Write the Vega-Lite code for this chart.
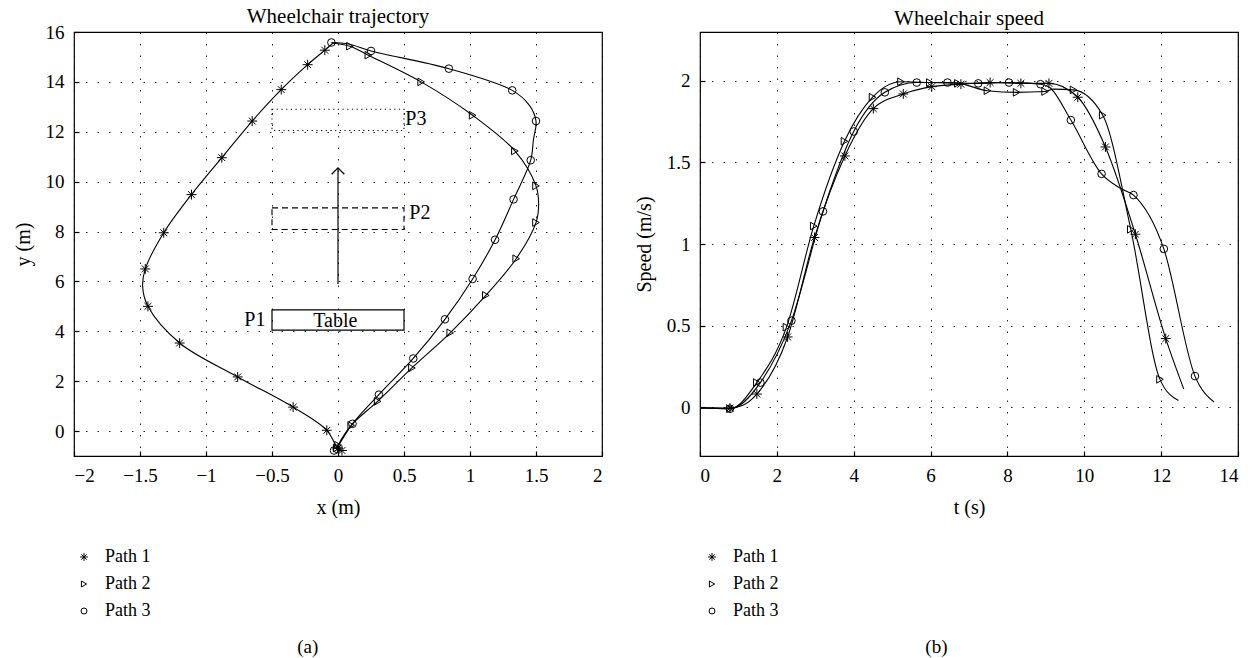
{
  "$schema": "https://vega.github.io/schema/vega-lite/v6.json",
  "background": "white",
  "padding": {"left": 12, "top": 5, "right": 5, "bottom": 0},
  "config": {
    "font": "Liberation Serif",
    "view": {"stroke": "#000", "strokeWidth": 1.2},
    "axis": {
      "domain": false, "tickSize": -5, "tickColor": "#000", "tickWidth": 1.2,
      "labelFont": "Liberation Serif", "labelFontSize": 19, "labelColor": "#000",
      "titleFont": "Liberation Serif", "titleFontSize": 20, "titleFontWeight": "normal", "titleColor": "#000",
      "grid": true, "gridColor": "#000", "gridDash": [1.5, 10], "gridWidth": 1, "gridOpacity": 0.85,
      "labelPadding": 15, "titlePadding": 12
    },
    "title": {"font": "Liberation Serif", "fontSize": 21, "fontWeight": "normal", "color": "#000"},
    "legend": {
      "orient": "none", "title": null, "padding": 0, "labelFont": "Liberation Serif", "labelFontSize": 18,
      "labelColor": "#000", "symbolSize": 36, "symbolStrokeColor": "#000", "symbolStrokeWidth": 1,
      "rowPadding": 9, "labelOffset": 12
    }
  },
  "datasets": {
    "traj": [
      {"path": "Path 1", "i": 0, "x": 0.02, "y": -0.78},
      {"path": "Path 1", "i": 1, "x": 0.0, "y": -0.72},
      {"path": "Path 1", "i": 2, "x": -0.085, "y": 0.03},
      {"path": "Path 1", "i": 3, "x": -0.34, "y": 0.96},
      {"path": "Path 1", "i": 4, "x": -0.76, "y": 2.17},
      {"path": "Path 1", "i": 5, "x": -1.2, "y": 3.53},
      {"path": "Path 1", "i": 6, "x": -1.44, "y": 5.0},
      {"path": "Path 1", "i": 7, "x": -1.48, "y": 5.8},
      {"path": "Path 1", "i": 8, "x": -1.46, "y": 6.5},
      {"path": "Path 1", "i": 9, "x": -1.32, "y": 7.95},
      {"path": "Path 1", "i": 10, "x": -1.11, "y": 9.48},
      {"path": "Path 1", "i": 11, "x": -0.88, "y": 10.96},
      {"path": "Path 1", "i": 12, "x": -0.65, "y": 12.43},
      {"path": "Path 1", "i": 13, "x": -0.43, "y": 13.69},
      {"path": "Path 1", "i": 14, "x": -0.23, "y": 14.69},
      {"path": "Path 1", "i": 15, "x": -0.1, "y": 15.27},
      {"path": "Path 1", "i": 16, "x": -0.04, "y": 15.55},
      {"path": "Path 2", "i": 0, "x": -0.04, "y": 15.55},
      {"path": "Path 2", "i": 1, "x": 0.09, "y": 15.43},
      {"path": "Path 2", "i": 2, "x": 0.23, "y": 15.07},
      {"path": "Path 2", "i": 3, "x": 0.63, "y": 14.0},
      {"path": "Path 2", "i": 4, "x": 1.02, "y": 12.66},
      {"path": "Path 2", "i": 5, "x": 1.34, "y": 11.23},
      {"path": "Path 2", "i": 6, "x": 1.5, "y": 9.83},
      {"path": "Path 2", "i": 7, "x": 1.52, "y": 9.1},
      {"path": "Path 2", "i": 8, "x": 1.5, "y": 8.36},
      {"path": "Path 2", "i": 9, "x": 1.35, "y": 6.91},
      {"path": "Path 2", "i": 10, "x": 1.12, "y": 5.44},
      {"path": "Path 2", "i": 11, "x": 0.85, "y": 3.94},
      {"path": "Path 2", "i": 12, "x": 0.56, "y": 2.53},
      {"path": "Path 2", "i": 13, "x": 0.3, "y": 1.19},
      {"path": "Path 2", "i": 14, "x": 0.1, "y": 0.23},
      {"path": "Path 2", "i": 15, "x": 0.0, "y": -0.57},
      {"path": "Path 2", "i": 16, "x": -0.01, "y": -0.7},
      {"path": "Path 3", "i": 0, "x": -0.05, "y": 15.58},
      {"path": "Path 3", "i": 1, "x": 0.08, "y": 15.52},
      {"path": "Path 3", "i": 2, "x": 0.25, "y": 15.24},
      {"path": "Path 3", "i": 3, "x": 0.84, "y": 14.53},
      {"path": "Path 3", "i": 4, "x": 1.32, "y": 13.66},
      {"path": "Path 3", "i": 5, "x": 1.45, "y": 13.06},
      {"path": "Path 3", "i": 6, "x": 1.5, "y": 12.43},
      {"path": "Path 3", "i": 7, "x": 1.48, "y": 11.66},
      {"path": "Path 3", "i": 8, "x": 1.46, "y": 10.86},
      {"path": "Path 3", "i": 9, "x": 1.33, "y": 9.29},
      {"path": "Path 3", "i": 10, "x": 1.19, "y": 7.67},
      {"path": "Path 3", "i": 11, "x": 1.02, "y": 6.1},
      {"path": "Path 3", "i": 12, "x": 0.81, "y": 4.48},
      {"path": "Path 3", "i": 13, "x": 0.57, "y": 2.91},
      {"path": "Path 3", "i": 14, "x": 0.31, "y": 1.46},
      {"path": "Path 3", "i": 15, "x": 0.11, "y": 0.29},
      {"path": "Path 3", "i": 16, "x": -0.01, "y": -0.71}
    ],
    "trajm": [
      {"path": "Path 1", "x": 0.03, "y": -0.78},
      {"path": "Path 1", "x": 0.0, "y": -0.68},
      {"path": "Path 1", "x": -0.085, "y": 0.03},
      {"path": "Path 1", "x": -0.34, "y": 0.96},
      {"path": "Path 1", "x": -0.76, "y": 2.17},
      {"path": "Path 1", "x": -1.2, "y": 3.53},
      {"path": "Path 1", "x": -1.44, "y": 5.0},
      {"path": "Path 1", "x": -1.46, "y": 6.5},
      {"path": "Path 1", "x": -1.32, "y": 7.95},
      {"path": "Path 1", "x": -1.11, "y": 9.48},
      {"path": "Path 1", "x": -0.88, "y": 10.96},
      {"path": "Path 1", "x": -0.65, "y": 12.43},
      {"path": "Path 1", "x": -0.43, "y": 13.69},
      {"path": "Path 1", "x": -0.23, "y": 14.69},
      {"path": "Path 1", "x": -0.1, "y": 15.27},
      {"path": "Path 2", "x": 0.09, "y": 15.43},
      {"path": "Path 2", "x": 0.23, "y": 15.07},
      {"path": "Path 2", "x": 0.63, "y": 14.0},
      {"path": "Path 2", "x": 1.02, "y": 12.66},
      {"path": "Path 2", "x": 1.34, "y": 11.23},
      {"path": "Path 2", "x": 1.5, "y": 9.83},
      {"path": "Path 2", "x": 1.5, "y": 8.36},
      {"path": "Path 2", "x": 1.35, "y": 6.91},
      {"path": "Path 2", "x": 1.12, "y": 5.44},
      {"path": "Path 2", "x": 0.85, "y": 3.94},
      {"path": "Path 2", "x": 0.56, "y": 2.53},
      {"path": "Path 2", "x": 0.3, "y": 1.19},
      {"path": "Path 2", "x": 0.1, "y": 0.23},
      {"path": "Path 2", "x": 0.0, "y": -0.57},
      {"path": "Path 2", "x": -0.01, "y": -0.68},
      {"path": "Path 3", "x": -0.05, "y": 15.58},
      {"path": "Path 3", "x": 0.25, "y": 15.24},
      {"path": "Path 3", "x": 0.84, "y": 14.53},
      {"path": "Path 3", "x": 1.32, "y": 13.66},
      {"path": "Path 3", "x": 1.5, "y": 12.43},
      {"path": "Path 3", "x": 1.46, "y": 10.86},
      {"path": "Path 3", "x": 1.33, "y": 9.29},
      {"path": "Path 3", "x": 1.19, "y": 7.67},
      {"path": "Path 3", "x": 1.02, "y": 6.1},
      {"path": "Path 3", "x": 0.81, "y": 4.48},
      {"path": "Path 3", "x": 0.57, "y": 2.91},
      {"path": "Path 3", "x": 0.31, "y": 1.46},
      {"path": "Path 3", "x": 0.11, "y": 0.29},
      {"path": "Path 3", "x": -0.01, "y": -0.71},
      {"path": "Path 3", "x": -0.03, "y": -0.78}
    ],
    "boxes": [
      {"name": "Table", "x": -0.5, "x2": 0.5, "y": 4.05, "y2": 4.86},
      {"name": "P2", "x": -0.5, "x2": 0.5, "y": 8.08, "y2": 8.95},
      {"name": "P3", "x": -0.5, "x2": 0.5, "y": 12.05, "y2": 12.9}
    ],
    "labels": [
      {"label": "P1", "x": -0.63, "y": 4.47},
      {"label": "Table", "x": -0.02, "y": 4.42},
      {"label": "P2", "x": 0.62, "y": 8.73},
      {"label": "P3", "x": 0.59, "y": 12.5}
    ],
    "arrow": [
      {"x": 0, "y": 5.9, "y2": 10.55}
    ],
    "speed": [
      {"path": "Path 1", "t": 0, "v": -0.005},
      {"path": "Path 1", "t": 0.78, "v": -0.006},
      {"path": "Path 1", "t": 1.1, "v": 0.01},
      {"path": "Path 1", "t": 1.48, "v": 0.08},
      {"path": "Path 1", "t": 2.28, "v": 0.43},
      {"path": "Path 1", "t": 2.98, "v": 1.04},
      {"path": "Path 1", "t": 3.77, "v": 1.54},
      {"path": "Path 1", "t": 4.51, "v": 1.83},
      {"path": "Path 1", "t": 5.29, "v": 1.92},
      {"path": "Path 1", "t": 6.03, "v": 1.965},
      {"path": "Path 1", "t": 6.79, "v": 1.98},
      {"path": "Path 1", "t": 7.55, "v": 1.99},
      {"path": "Path 1", "t": 8.35, "v": 1.985},
      {"path": "Path 1", "t": 9.08, "v": 1.985},
      {"path": "Path 1", "t": 9.83, "v": 1.9},
      {"path": "Path 1", "t": 10.55, "v": 1.595},
      {"path": "Path 1", "t": 11.33, "v": 1.06},
      {"path": "Path 1", "t": 12.12, "v": 0.42},
      {"path": "Path 1", "t": 12.59, "v": 0.11},
      {"path": "Path 2", "t": 0, "v": -0.005},
      {"path": "Path 2", "t": 0.78, "v": -0.01},
      {"path": "Path 2", "t": 1.48, "v": 0.15},
      {"path": "Path 2", "t": 2.25, "v": 0.49},
      {"path": "Path 2", "t": 2.96, "v": 1.11},
      {"path": "Path 2", "t": 3.76, "v": 1.63},
      {"path": "Path 2", "t": 4.49, "v": 1.9},
      {"path": "Path 2", "t": 5.23, "v": 1.995},
      {"path": "Path 2", "t": 5.98, "v": 1.99},
      {"path": "Path 2", "t": 6.71, "v": 1.985},
      {"path": "Path 2", "t": 7.48, "v": 1.94},
      {"path": "Path 2", "t": 8.24, "v": 1.93},
      {"path": "Path 2", "t": 8.98, "v": 1.935},
      {"path": "Path 2", "t": 9.2, "v": 1.95},
      {"path": "Path 2", "t": 9.72, "v": 1.945},
      {"path": "Path 2", "t": 10.48, "v": 1.79},
      {"path": "Path 2", "t": 11.21, "v": 1.09},
      {"path": "Path 2", "t": 11.97, "v": 0.17},
      {"path": "Path 2", "t": 12.45, "v": 0.04},
      {"path": "Path 3", "t": 0, "v": -0.005},
      {"path": "Path 3", "t": 0.78, "v": -0.01},
      {"path": "Path 3", "t": 1.57, "v": 0.15},
      {"path": "Path 3", "t": 2.38, "v": 0.53},
      {"path": "Path 3", "t": 3.2, "v": 1.2},
      {"path": "Path 3", "t": 4.0, "v": 1.69},
      {"path": "Path 3", "t": 4.81, "v": 1.93},
      {"path": "Path 3", "t": 5.64, "v": 1.99},
      {"path": "Path 3", "t": 6.44, "v": 1.99},
      {"path": "Path 3", "t": 7.24, "v": 1.985},
      {"path": "Path 3", "t": 8.04, "v": 1.99},
      {"path": "Path 3", "t": 8.86, "v": 1.98},
      {"path": "Path 3", "t": 9.1, "v": 1.96},
      {"path": "Path 3", "t": 9.65, "v": 1.76},
      {"path": "Path 3", "t": 10.45, "v": 1.43},
      {"path": "Path 3", "t": 10.95, "v": 1.34},
      {"path": "Path 3", "t": 11.28, "v": 1.3},
      {"path": "Path 3", "t": 12.07, "v": 0.97},
      {"path": "Path 3", "t": 12.88, "v": 0.19},
      {"path": "Path 3", "t": 13.38, "v": 0.03}
    ],
    "speedm": [
      {"path": "Path 1", "t": 0.78, "v": -0.006},
      {"path": "Path 1", "t": 1.48, "v": 0.08},
      {"path": "Path 1", "t": 2.28, "v": 0.43},
      {"path": "Path 1", "t": 2.98, "v": 1.04},
      {"path": "Path 1", "t": 3.77, "v": 1.54},
      {"path": "Path 1", "t": 4.51, "v": 1.83},
      {"path": "Path 1", "t": 5.29, "v": 1.92},
      {"path": "Path 1", "t": 6.03, "v": 1.965},
      {"path": "Path 1", "t": 6.79, "v": 1.98},
      {"path": "Path 1", "t": 7.55, "v": 1.99},
      {"path": "Path 1", "t": 8.35, "v": 1.985},
      {"path": "Path 1", "t": 9.08, "v": 1.985},
      {"path": "Path 1", "t": 9.83, "v": 1.9},
      {"path": "Path 1", "t": 10.55, "v": 1.595},
      {"path": "Path 1", "t": 11.33, "v": 1.06},
      {"path": "Path 1", "t": 12.12, "v": 0.42},
      {"path": "Path 2", "t": 0.78, "v": -0.01},
      {"path": "Path 2", "t": 1.48, "v": 0.15},
      {"path": "Path 2", "t": 2.25, "v": 0.49},
      {"path": "Path 2", "t": 2.96, "v": 1.11},
      {"path": "Path 2", "t": 3.76, "v": 1.63},
      {"path": "Path 2", "t": 4.49, "v": 1.9},
      {"path": "Path 2", "t": 5.23, "v": 1.995},
      {"path": "Path 2", "t": 5.98, "v": 1.99},
      {"path": "Path 2", "t": 6.71, "v": 1.985},
      {"path": "Path 2", "t": 7.48, "v": 1.94},
      {"path": "Path 2", "t": 8.24, "v": 1.93},
      {"path": "Path 2", "t": 8.98, "v": 1.935},
      {"path": "Path 2", "t": 9.72, "v": 1.945},
      {"path": "Path 2", "t": 10.48, "v": 1.79},
      {"path": "Path 2", "t": 11.21, "v": 1.09},
      {"path": "Path 2", "t": 11.97, "v": 0.17},
      {"path": "Path 3", "t": 0.78, "v": -0.01},
      {"path": "Path 3", "t": 1.57, "v": 0.15},
      {"path": "Path 3", "t": 2.38, "v": 0.53},
      {"path": "Path 3", "t": 3.2, "v": 1.2},
      {"path": "Path 3", "t": 4.0, "v": 1.69},
      {"path": "Path 3", "t": 4.81, "v": 1.93},
      {"path": "Path 3", "t": 5.64, "v": 1.99},
      {"path": "Path 3", "t": 6.44, "v": 1.99},
      {"path": "Path 3", "t": 7.24, "v": 1.985},
      {"path": "Path 3", "t": 8.04, "v": 1.99},
      {"path": "Path 3", "t": 8.86, "v": 1.98},
      {"path": "Path 3", "t": 9.65, "v": 1.76},
      {"path": "Path 3", "t": 10.45, "v": 1.43},
      {"path": "Path 3", "t": 11.28, "v": 1.3},
      {"path": "Path 3", "t": 12.07, "v": 0.97},
      {"path": "Path 3", "t": 12.88, "v": 0.19}
    ]
  },
  "spacing": 29,
  "resolve": {"legend": {"shape": "independent"}},
  "hconcat": [
    {
      "title": {"text": "(a)", "orient": "bottom", "anchor": "middle", "offset": 18, "fontSize": 19},
      "vconcat": [
        {
          "title": {"text": "Wheelchair trajectory", "offset": -4},
          "width": 528,
          "height": 424,
          "layer": [
            {
              "data": {"name": "traj"},
              "mark": {"type": "line", "color": "#000", "strokeWidth": 1.1, "interpolate": "catmull-rom"},
              "encoding": {
                "x": {"field": "x", "type": "quantitative", "title": "x (m)",
                      "scale": {"domain": [-2, 2], "nice": false, "zero": false},
                      "axis": {"values": [-2, -1.5, -1, -0.5, 0, 0.5, 1, 1.5, 2], "format": "~g"}},
                "y": {"field": "y", "type": "quantitative", "title": "y (m)",
                      "scale": {"domain": [-1, 16], "nice": false, "zero": false},
                      "axis": {"values": [0, 2, 4, 6, 8, 10, 12, 14, 16], "format": "~g"}},
                "detail": {"field": "path"},
                "order": {"field": "i"}
              }
            },
            {
              "data": {"name": "boxes"},
              "transform": [{"filter": "datum.name === 'Table'"}],
              "mark": {"type": "rect", "fill": null, "fillOpacity": 0, "stroke": "#000", "strokeWidth": 1.2},
              "encoding": {
                "x": {"field": "x", "type": "quantitative"}, "x2": {"field": "x2"},
                "y": {"field": "y", "type": "quantitative"}, "y2": {"field": "y2"}
              }
            },
            {
              "data": {"name": "boxes"},
              "transform": [{"filter": "datum.name === 'P2'"}],
              "mark": {"type": "rect", "fill": null, "fillOpacity": 0, "stroke": "#000", "strokeWidth": 1.1, "strokeDash": [6, 4]},
              "encoding": {
                "x": {"field": "x", "type": "quantitative"}, "x2": {"field": "x2"},
                "y": {"field": "y", "type": "quantitative"}, "y2": {"field": "y2"}
              }
            },
            {
              "data": {"name": "boxes"},
              "transform": [{"filter": "datum.name === 'P3'"}],
              "mark": {"type": "rect", "fill": null, "fillOpacity": 0, "stroke": "#000", "strokeWidth": 1.1, "strokeDash": [1.2, 3.5]},
              "encoding": {
                "x": {"field": "x", "type": "quantitative"}, "x2": {"field": "x2"},
                "y": {"field": "y", "type": "quantitative"}, "y2": {"field": "y2"}
              }
            },
            {
              "data": {"name": "arrow"},
              "mark": {"type": "rule", "color": "#000", "strokeWidth": 1.2},
              "encoding": {
                "x": {"field": "x", "type": "quantitative"},
                "y": {"field": "y", "type": "quantitative"}, "y2": {"field": "y2"}
              }
            },
            {
              "data": {"name": "arrow"},
              "mark": {"type": "point", "shape": "M-1,1L0,0L1,1", "size": 160, "filled": false, "color": "#000", "strokeWidth": 1.2, "opacity": 1},
              "encoding": {
                "x": {"field": "x", "type": "quantitative"},
                "y": {"field": "y2", "type": "quantitative"}
              }
            },
            {
              "data": {"name": "labels"},
              "mark": {"type": "text", "font": "Liberation Serif", "fontSize": 20, "color": "#000", "align": "center", "baseline": "middle"},
              "encoding": {
                "x": {"field": "x", "type": "quantitative"},
                "y": {"field": "y", "type": "quantitative"},
                "text": {"field": "label"}
              }
            },
            {
              "data": {"name": "trajm"},
              "mark": {"type": "point", "filled": false, "color": "#000", "size": 58, "strokeWidth": 1, "opacity": 1},
              "encoding": {
                "x": {"field": "x", "type": "quantitative"},
                "y": {"field": "y", "type": "quantitative"},
                "shape": {"field": "path", "type": "nominal",
                          "scale": {"domain": ["Path 1", "Path 2", "Path 3"],
                                    "range": ["M-1.3,0L1.3,0M0,-1.3L0,1.3M-0.9,-0.9L0.9,0.9M-0.9,0.9L0.9,-0.9", "triangle-right", "circle"]},
                          "legend": {"legendX": 1, "legendY": 516}}
              }
            }
          ]
        }
      ]
    },
    {
      "title": {"text": "(b)", "orient": "bottom", "anchor": "middle", "offset": 18, "fontSize": 19},
      "vconcat": [
        {
          "title": {"text": "Wheelchair speed", "offset": 3},
          "width": 538,
          "height": 424,
          "layer": [
            {
              "data": {"name": "speed"},
              "mark": {"type": "line", "color": "#000", "strokeWidth": 1.1, "interpolate": "monotone"},
              "encoding": {
                "x": {"field": "t", "type": "quantitative", "title": "t (s)",
                      "scale": {"domain": [0, 14], "nice": false},
                      "axis": {"values": [0, 2, 4, 6, 8, 10, 12, 14], "format": "~g"}},
                "y": {"field": "v", "type": "quantitative", "title": "Speed (m/s)",
                      "scale": {"domain": [-0.3, 2.3], "nice": false, "zero": false},
                      "axis": {"values": [0, 0.5, 1, 1.5, 2], "format": "~g"}},
                "detail": {"field": "path"}
              }
            },
            {
              "data": {"name": "speedm"},
              "mark": {"type": "point", "filled": false, "color": "#000", "size": 58, "strokeWidth": 1, "opacity": 1},
              "encoding": {
                "x": {"field": "t", "type": "quantitative"},
                "y": {"field": "v", "type": "quantitative"},
                "shape": {"field": "path", "type": "nominal",
                          "scale": {"domain": ["Path 1", "Path 2", "Path 3"],
                                    "range": ["M-1.3,0L1.3,0M0,-1.3L0,1.3M-0.9,-0.9L0.9,0.9M-0.9,0.9L0.9,-0.9", "triangle-right", "circle"]},
                          "legend": {"legendX": 3, "legendY": 516}}
              }
            }
          ]
        }
      ]
    }
  ]
}
